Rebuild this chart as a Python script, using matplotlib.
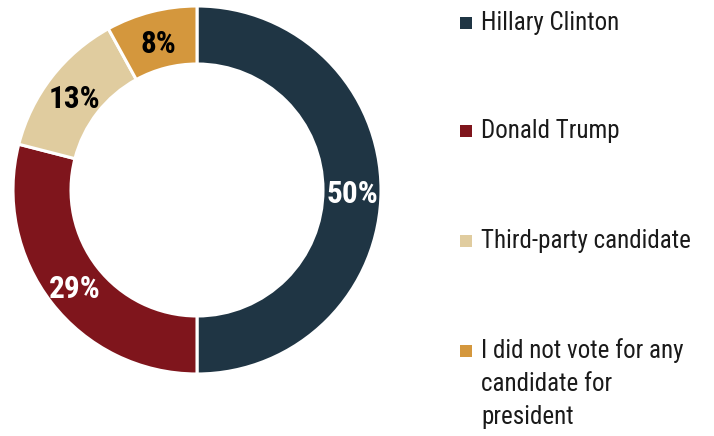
import matplotlib
matplotlib.use("Agg")
import matplotlib.pyplot as plt
from matplotlib.patches import Rectangle

plt.rcParams["font.family"] = ["Roboto Condensed", "Liberation Sans Narrow", "Roboto", "DejaVu Sans"]

labels = [
    "Hillary Clinton",
    "Donald Trump",
    "Third-party candidate",
    "I did not vote for any\ncandidate for\npresident",
]
shares = [50, 29, 13, 8]
colors = ["#1f3544", "#7f151c", "#e0cc9f", "#d4973d"]
pct_colors = ["white", "white", "black", "black"]

W, H = 714, 436
fig = plt.figure(figsize=(W / 100, H / 100), dpi=100)

# donut: centre (197, 190) px from top-left, outer radius 184 px
cx, cy, r = 197, 190, 184
ax = fig.add_axes([(cx - r) / W, (H - cy - r) / H, 2 * r / W, 2 * r / H])
inner = 126 / 184
wedges, _, autotexts = ax.pie(
    shares,
    colors=colors,
    startangle=90,
    counterclock=False,
    radius=1,
    autopct=lambda p: f"{round(p)}%",
    pctdistance=(1 + inner) / 2,
    wedgeprops=dict(width=1 - inner, edgecolor="white", linewidth=2.2),
)
for t, c in zip(autotexts, pct_colors):
    x, y = t.get_position()
    t.set_position((x, y - 4 / r))
    t.set_color(c)
    t.set_fontsize(22.5)
    t.set_fontweight("bold")
ax.set_xlim(-1, 1)
ax.set_ylim(-1, 1)
ax.set_aspect("equal")
ax.axis("off")

# legend drawn by hand so the marker sits on the first line of wrapped text
baselines = [30, 138, 248, 358]
line_step = 33
for lab, col, yb in zip(labels, colors, baselines):
    fig.patches.append(Rectangle((460 / W, (H - yb + 1) / H), 12 / W, 12 / H,
                                 facecolor=col, edgecolor="none",
                                 transform=fig.transFigure, figure=fig))
    for k, line in enumerate(lab.split("\n")):
        fig.text(481 / W, (H - yb - k * line_step) / H, line, fontsize=18,
                 color="#1a1a1a", va="baseline", ha="left")

fig.savefig("out.png", dpi=100)
